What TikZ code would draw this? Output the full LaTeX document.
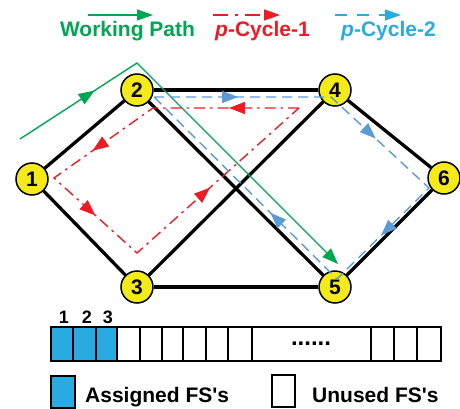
\documentclass[tikz,border=0pt]{standalone}
\usepackage{fontspec}
\setmainfont{Liberation Sans}
\usetikzlibrary{arrows.meta, decorations.markings, positioning}

\definecolor{nodeyellow}{HTML}{F4EA17}
\definecolor{wpgreen}{HTML}{00A651}
\definecolor{pcred}{HTML}{ED1C24}
\definecolor{pcblue}{HTML}{5B9BD5}
\definecolor{fsblue}{HTML}{29ABE2}

\begin{document}
\begin{tikzpicture}[x=1pt, y=-1pt]
    \tikzset{Vertex/.style={%
            shape=circle,%
            draw=black,%
            fill=nodeyellow,%
            line width=1.5pt,%
            minimum size=32pt,%
            inner sep=0pt,%
            font=\bfseries\fontsize{21}{21}\selectfont,%
        },
        Link/.style={-, line width=3.3pt},
        cyctip/.tip={Triangle[length=16pt, width=12pt]},
        WorkPath/.style={color=wpgreen, line width=1.4pt},
        Cycle1/.style={color=pcred, line width=1.4pt, dash pattern=on 11pt off 5pt on 2.5pt off 5pt},
        Cycle2/.style={color=pcblue, line width=1.4pt, dash pattern=on 10pt off 6pt},
        Label/.style={font=\bfseries\fontsize{21}{21}\selectfont, inner sep=0pt, anchor=base},
        Slot/.style={draw=black, line width=1.5pt},
    }
    \useasboundingbox (0,0) rectangle (460,409);

    % network
    \node[Vertex] (1) at (32,179) {1};
    \node[Vertex] (2) at (137,90) {2};
    \node[Vertex] (3) at (137,287) {3};
    \node[Vertex] (4) at (335,90) {4};
    \node[Vertex] (5) at (335,287) {5};
    \node[Vertex] (6) at (444,178) {6};

    \path (1) edge[Link] (2);
    \path (1) edge[Link] (3);
    \path (2) edge[Link] (4);
    \path (2) edge[Link] (5);
    \path (3) edge[Link] (4);
    \path (3) edge[Link] (5);
    \path (4) edge[Link] (6);
    \path (5) edge[Link] (6);

    % working path 1-2-5
    \coordinate (w0) at (20,139);
    \coordinate (w1) at (137,63);
    \coordinate (w2) at (338,264);
    \draw[WorkPath, -{Triangle[length=16pt, width=12pt]},
        postaction={decorate, decoration={markings,
            mark=at position 89pt with {\arrow{cyctip}}}}]
        (w0) -- (w1) -- (w2);

    % p-cycle 1: 1-3-4-2-1
    \coordinate (r1) at (299,108);
    \coordinate (r2) at (153,108);
    \coordinate (r3) at (54,178);
    \coordinate (r4) at (137,253);
    \draw[Cycle1, postaction={decorate, decoration={markings,
            mark=at position 70pt with {\arrow{cyctip}},
            mark=at position 220pt with {\arrow{cyctip}},
            mark=at position 323pt with {\arrow{cyctip}},
            mark=at position 477pt with {\arrow{cyctip}}}}]
        (r1) -- (r2) -- (r3) -- (r4) -- cycle;

    % p-cycle 2: 2-4-6-5-2
    \coordinate (b1) at (154,97);
    \coordinate (b2) at (331,97);
    \coordinate (b3) at (429,188);
    \coordinate (b4) at (337,279);
    \draw[Cycle2, postaction={decorate, decoration={markings,
            mark=at position 84pt with {\arrow{cyctip}},
            mark=at position 238pt with {\arrow{cyctip}},
            mark=at position 378pt with {\arrow{cyctip}},
            mark=at position 534pt with {\arrow{cyctip}}}}]
        (b1) -- (b2) -- (b3) -- (b4) -- cycle;

    % legend on top
    \coordinate (lw0) at (88,15);
    \coordinate (lw1) at (153,15);
    \draw[WorkPath, -{Triangle[length=16pt, width=11pt]}] (lw0) -- (lw1);
    \node[Label, text=wpgreen] (lwork) at (127.5,37) {Working Path};

    \coordinate (lr0) at (213,15);
    \coordinate (lr1) at (280,15);
    \draw[Cycle1, dash pattern=on 15pt off 7pt on 3pt off 7pt,
        -{Triangle[length=16pt, width=11pt]}] (lr0) -- (lr1);
    \node[Label, text=pcred] (lcyc1) at (262.5,37) {\textit{p}-Cycle-1};

    \coordinate (lb0) at (335,15);
    \coordinate (lb1) at (401,15);
    \draw[Cycle2, color=fsblue, dash pattern=on 12pt off 10pt,
        -{Triangle[length=16pt, width=11pt]}] (lb0) -- (lb1);
    \node[Label, text=fsblue] (lcyc2) at (388.5,37) {\textit{p}-Cycle-2};

    % frequency slots
    \draw[Slot, fill=fsblue] (51,327) rectangle (73,361);
    \draw[Slot, fill=fsblue] (73,327) rectangle (96,361);
    \draw[Slot, fill=fsblue] (96,327) rectangle (117,361);
    \draw[Slot] (117,327) rectangle (140,361);
    \draw[Slot] (140,327) rectangle (162,361);
    \draw[Slot] (162,327) rectangle (183,361);
    \draw[Slot] (183,327) rectangle (206,361);
    \draw[Slot] (206,327) rectangle (228,361);
    \draw[Slot] (228,327) rectangle (252,361);
    \draw[Slot] (252,327) rectangle (371,361);
    \draw[Slot] (371,327) rectangle (394,361);
    \draw[Slot] (394,327) rectangle (417,361);
    \draw[Slot] (417,327) rectangle (441,361);
    \node[Label, font=\bfseries\fontsize{24}{24}\selectfont] (gap) at (311,345) {......};

    \node[Label, font=\bfseries\fontsize{18}{18}\selectfont] (fs1) at (64,323) {1};
    \node[Label, font=\bfseries\fontsize{18}{18}\selectfont] (fs2) at (87,323) {2};
    \node[Label, font=\bfseries\fontsize{18}{18}\selectfont] (fs3) at (108,323) {3};

    % legend at the bottom
    \draw[Slot, fill=fsblue] (51,376) rectangle (75,408);
    \node[Label, anchor=base west] (lused) at (85,402) {Assigned FS\textquotesingle s};
    \draw[Slot] (272,375) rectangle (295,407);
    \node[Label, anchor=base west] (lfree) at (312,402) {Unused FS\textquotesingle s};
\end{tikzpicture}
\end{document}
